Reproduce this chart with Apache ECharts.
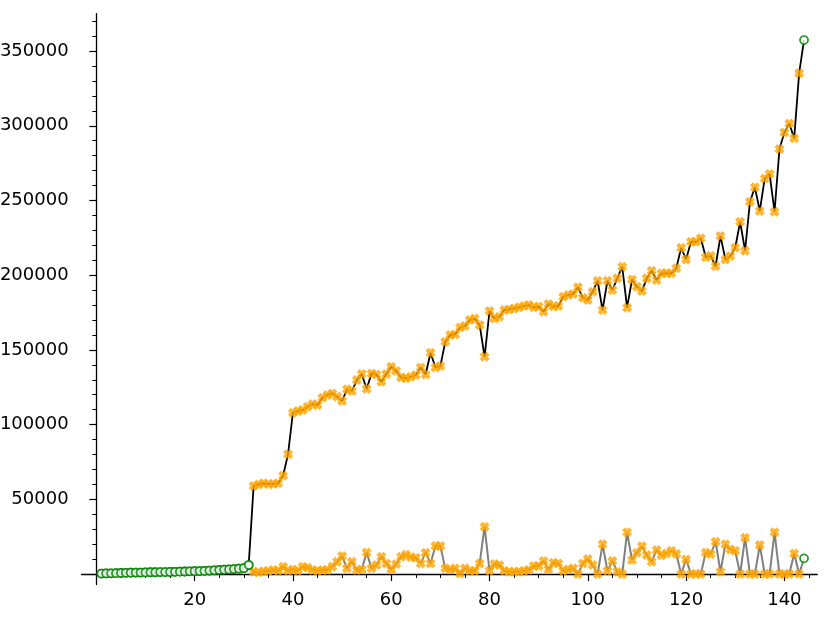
<!DOCTYPE html>
<html><head><meta charset="utf-8">
<script src="https://cdn.jsdelivr.net/npm/echarts@6/dist/echarts.min.js"></script>
<style>html,body{margin:0;padding:0;background:#fff}#c{width:830px;height:618px}</style>
</head><body><div id="c"></div>
<script>
// Values for days 1..144
const upper = [
  300,400,500,600,700,800,900,1000,1000,1100,
  1200,1200,1300,1300,1400,1500,1600,1700,1800,1900,
  2000,2100,2300,2500,2700,2900,3100,3300,3600,3900,
  6000,
  58900,60000,60700,60300,60300,60700,65800,80100,108000,
  109100,109800,112000,113800,113100,118000,119800,120900,118700,115800,
  123600,122500,129800,133900,123800,134300,133500,128700,133900,138800,
  135900,131600,131000,132000,133200,138300,133600,148100,138300,139200,
  155500,160000,160400,165000,166000,170000,171000,166700,145400,176000,
  171100,172200,176700,177100,177800,178500,179400,180000,178500,179000,
  175600,180700,179000,179400,185600,186700,187400,191900,184900,183400,
  189000,196300,176700,196300,190100,197900,205700,178300,197200,192300,
  189400,197900,203000,196800,201300,201300,201300,204600,218400,210600,
  222400,222400,224700,212000,213100,206000,226200,210600,212800,218400,
  235800,216400,249200,258800,243000,264800,267700,242500,284400,295600,
  301600,291600,335100,
  357400
];
const lower = [
  300,400,500,600,700,800,900,1000,1000,1100,
  1200,1200,1300,1300,1400,1500,1600,1700,1800,1900,
  2000,2100,2300,2500,2700,2900,3100,3300,3600,3900,
  6000,
  1500,1200,1800,2000,2700,2200,4900,2200,3100,
  2200,4900,4200,2700,2200,2700,2700,4900,8300,12000,
  3800,8300,2700,3100,14500,3800,6000,11600,7100,3100,
  6700,11600,12900,11200,10900,7100,14300,7100,18700,18700,
  3800,3100,3800,400,3800,2200,2200,7100,31700,2200,
  6700,6000,2200,1600,1600,1600,2200,2700,5400,5400,
  8700,3100,7600,7100,2200,3100,3800,0,7100,10000,
  6000,0,19900,2200,8700,1600,0,27900,9400,14300,
  18600,12700,8300,16100,12500,13800,15600,13600,0,9800,
  0,0,0,14500,13400,21600,1600,19900,16500,15600,
  0,24300,0,0,19400,0,0,27900,0,0,
  0,13800,0,
  10500
];
const firstOrangeDay = 32;
const lastOrangeDay = 143;
const xMajorTicks = [20,40,60,80,100,120,140];
const yMajorTicks = [50000,100000,150000,200000,250000,300000,350000];

const xMinor = []; for (let v = 0; v <= 145; v += 5) xMinor.push(v);
const yMinor = []; for (let v = 0; v <= 370000; v += 10000) yMinor.push(v);

const pairs = arr => arr.map((v,i)=>[i+1, v]);
const pick = (arr, test) => arr.map((v,i)=>[i+1,v]).filter(p=>test(p[0]));
const isOrange = d => d >= firstOrangeDay && d <= lastOrangeDay;
const isGreen = d => !isOrange(d);

const X_PATH = 'path://M0,3 L3,0 L5,2 L7,0 L10,3 L8,5 L10,7 L7,10 L5,8 L3,10 L0,7 L2,5 Z';
const FONT = 'DejaVu Sans';
const XMIN = -3, XMAX = 146.7, YMIN = -7000, YMAX = 375000;
const plain = v => String(v);

function xAx(extra){
  return Object.assign({type:'value', min:XMIN, max:XMAX, position:'bottom',
    splitLine:{show:false}}, extra);
}
function yAx(extra){
  return Object.assign({type:'value', min:YMIN, max:YMAX, position:'left',
    splitLine:{show:false}}, extra);
}

const chart = echarts.init(document.getElementById('c'), null, {renderer:'canvas'});
chart.setOption({
  animation:false,
  backgroundColor:'#fff',
  grid:{left:81.6, right:12.7, top:13.75, bottom:33.5, containLabel:false, outerBoundsMode:'none'},
  xAxis:[
    xAx({axisLine:{show:true,onZero:true,lineStyle:{color:'#000',width:1.3}},
      axisTick:{show:true,inside:false,length:7,customValues:xMajorTicks,lineStyle:{color:'#000',width:1.2}},
      axisLabel:{show:true,customValues:xMajorTicks,formatter:plain,margin:7,color:'#000',fontFamily:FONT,fontSize:18}}),
    xAx({axisLine:{show:false,onZero:true},
      axisTick:{show:true,inside:false,length:4,customValues:xMinor,lineStyle:{color:'#000',width:1}},
      axisLabel:{show:false}})
  ],
  yAxis:[
    yAx({axisLine:{show:true,onZero:true,lineStyle:{color:'#000',width:1.3}},
      axisTick:{show:true,inside:false,length:7,customValues:yMajorTicks,lineStyle:{color:'#000',width:1.2}},
      axisLabel:{show:true,customValues:yMajorTicks,formatter:plain,margin:13,color:'#000',fontFamily:FONT,fontSize:18}}),
    yAx({axisLine:{show:false,onZero:true},
      axisTick:{show:true,inside:false,length:4,customValues:yMinor,lineStyle:{color:'#000',width:1}},
      axisLabel:{show:false}})
  ],
  series:[
    {type:'line', xAxisIndex:0, yAxisIndex:0, data:pairs(upper), symbol:'none',
      lineStyle:{color:'#000', width:1.8}, z:2},
    {type:'line', xAxisIndex:0, yAxisIndex:0, data:pairs(lower), symbol:'none',
      lineStyle:{color:'#808080', width:2}, z:2},
    {type:'scatter', xAxisIndex:0, yAxisIndex:0, data:pick(upper,isOrange), symbol:X_PATH, symbolSize:10,
      itemStyle:{color:'#FFA500'}, z:3},
    {type:'scatter', xAxisIndex:0, yAxisIndex:0, data:pick(lower,isOrange), symbol:X_PATH, symbolSize:10,
      itemStyle:{color:'#FFA500'}, z:3},
    {type:'scatter', xAxisIndex:0, yAxisIndex:0, data:pick(lower,isGreen), symbol:'circle', symbolSize:8,
      itemStyle:{color:'#fff', borderColor:'#008000', borderWidth:1.8}, z:4},
    {type:'scatter', xAxisIndex:0, yAxisIndex:0, data:pick(upper,isGreen), symbol:'circle', symbolSize:8,
      itemStyle:{color:'#fff', borderColor:'#008000', borderWidth:1.8}, z:4}
  ]
});
</script></body></html>
